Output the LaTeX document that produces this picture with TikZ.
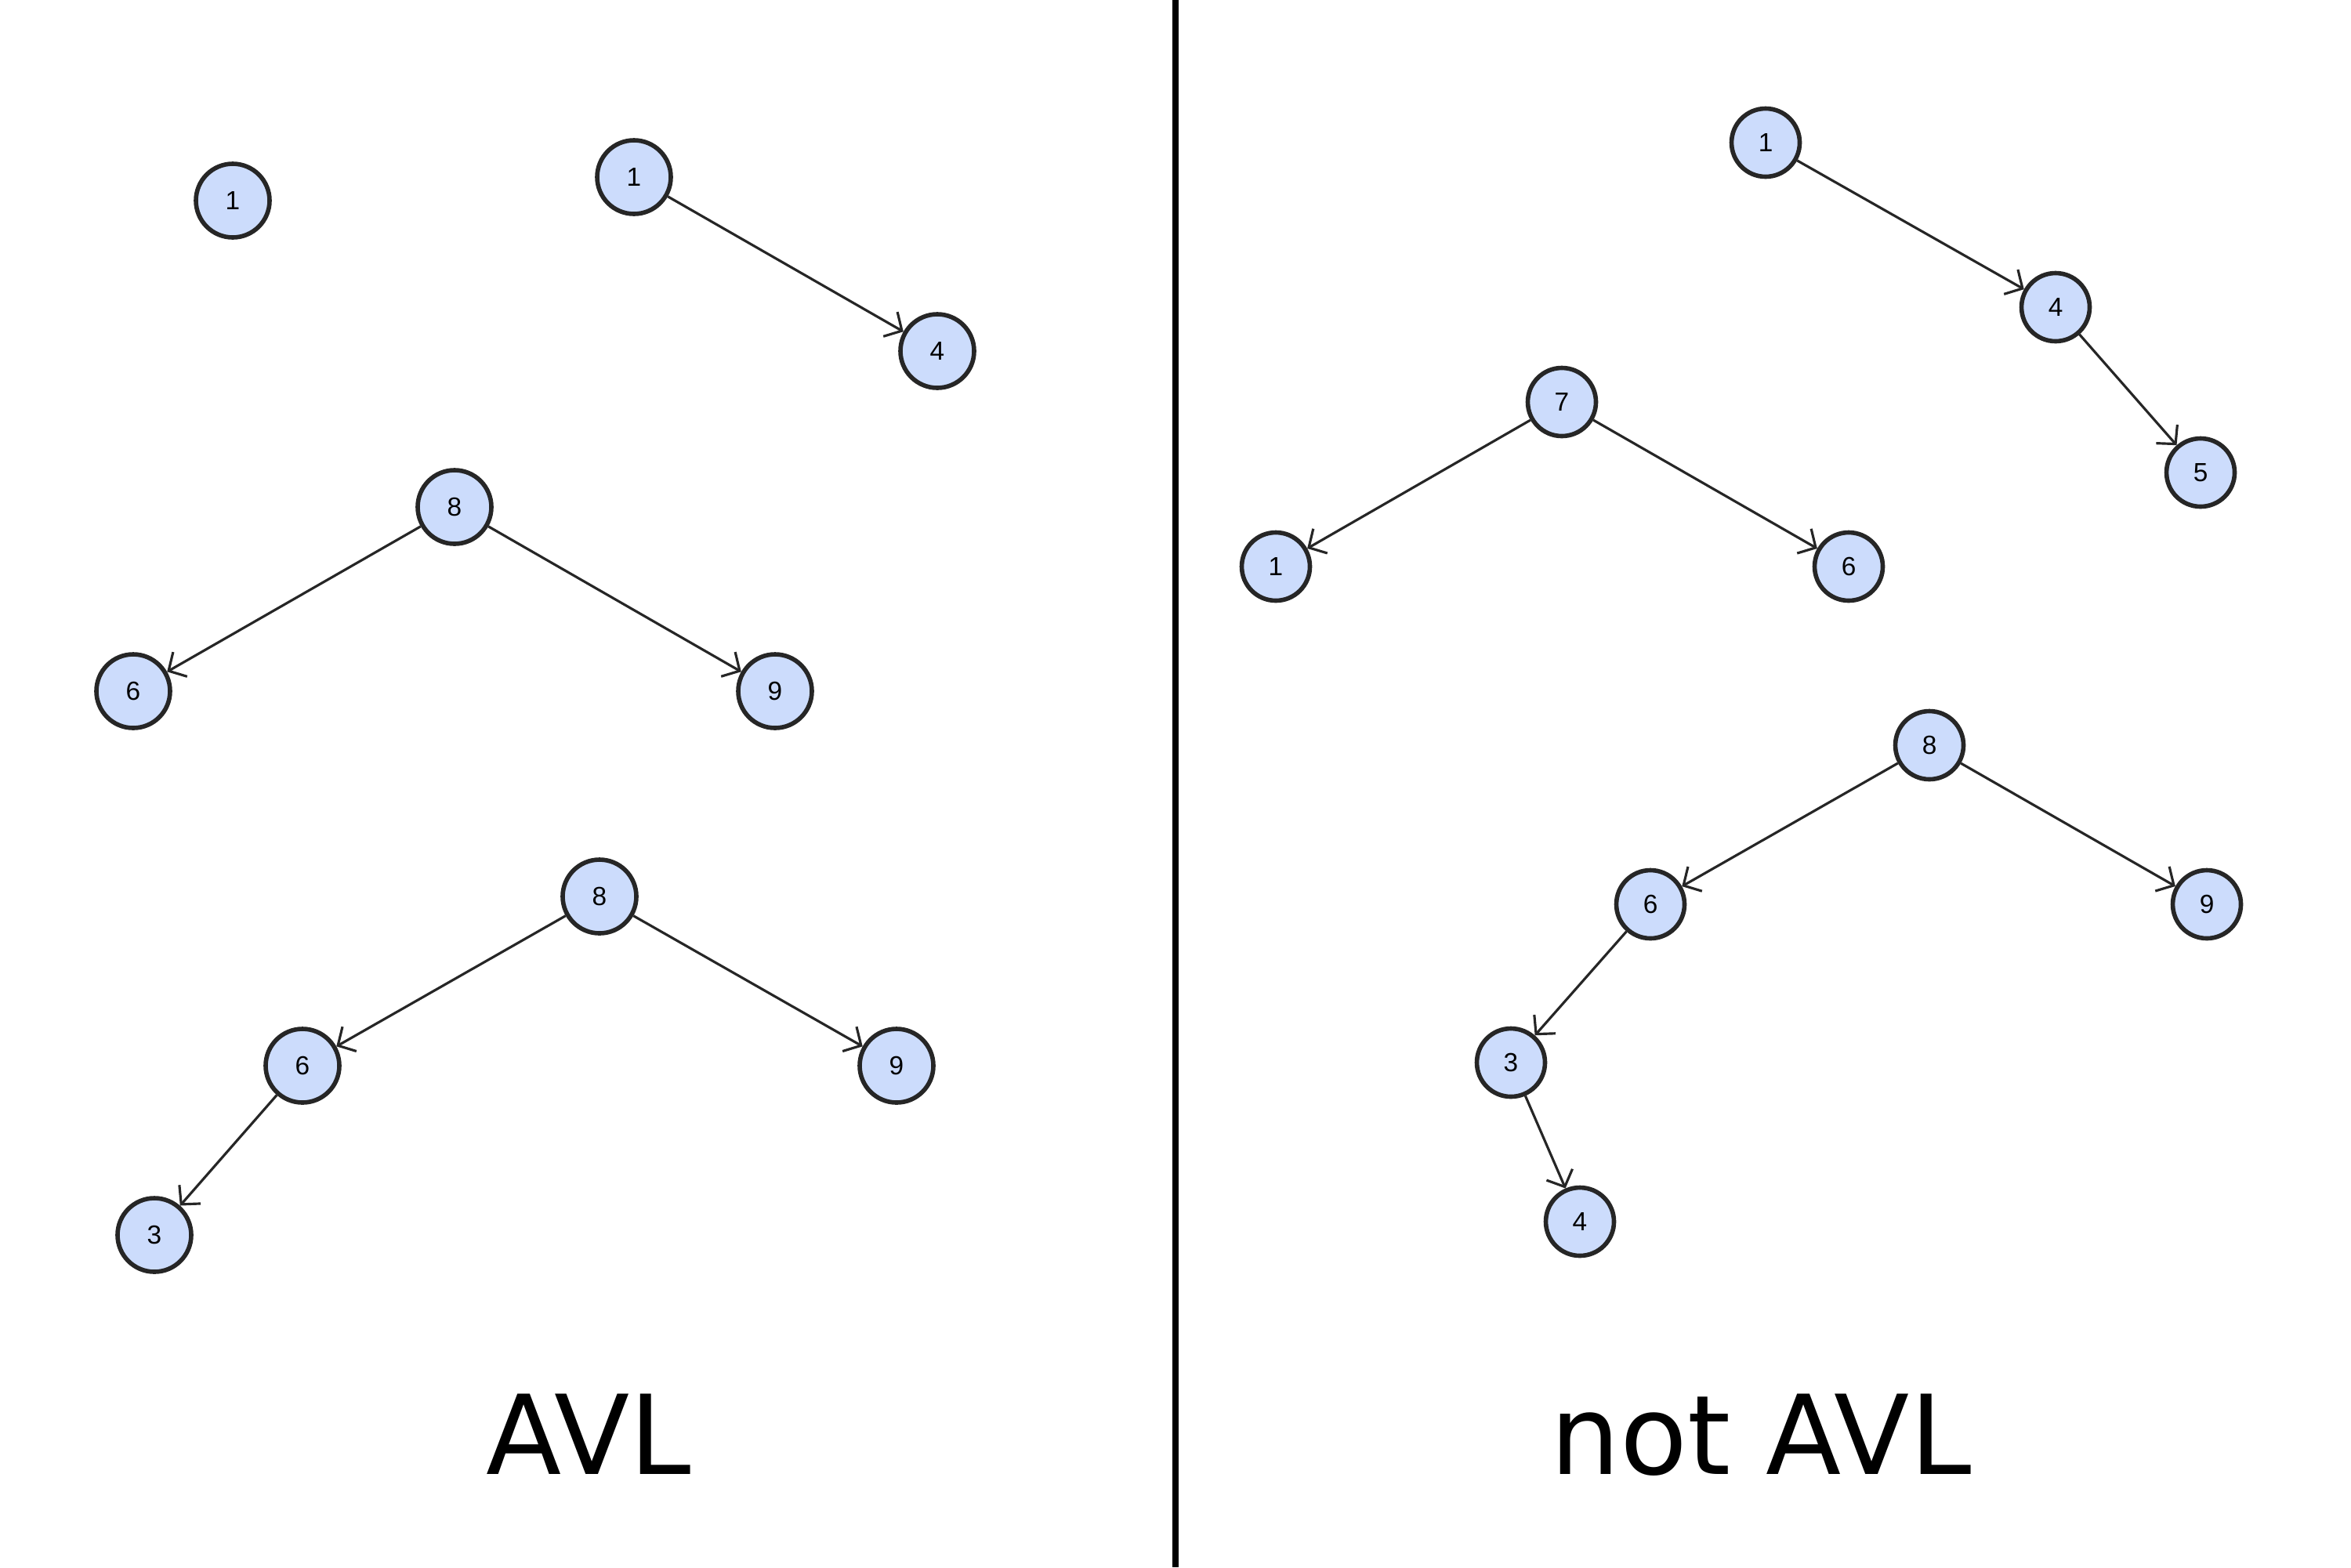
\documentclass[tikz,border=0pt]{standalone}
\usepackage{fontspec}
\setmainfont{Liberation Sans}
\newfontfamily\labelfont{DejaVu Sans}
\usetikzlibrary{arrows.meta}
\definecolor{vertblue}{RGB}{204,220,252}

\begin{document}
\begin{tikzpicture}[vert/.style={circle, draw=black!85, line width=1.6pt, fill=vertblue, inner sep=0pt, minimum size=0.87cm, font=\fontsize{9.5}{9.5}\selectfont},
	big/.style={minimum size=0.94cm},
	edge/.style={-{Straight Barb[length=1.7mm,width=3.6mm]}, line width=0.9pt, black!85}]
	\useasboundingbox (0, 0) rectangle (30, -20);
	% left side: AVL trees
	\node[vert, big] (a1) at (2.97, -2.56) {1};
	\node[vert, big] (b1) at (8.09, -2.26) {1};
	\node[vert, big] (b4) at (11.96, -4.48) {4};
	\node[vert, big] (c8) at (5.80, -6.47) {8};
	\node[vert, big] (c6) at (1.70, -8.82) {6};
	\node[vert, big] (c9) at (9.89, -8.82) {9};
	\node[vert, big] (d8) at (7.65, -11.44) {8};
	\node[vert, big] (d6) at (3.86, -13.60) {6};
	\node[vert, big] (d9) at (11.44, -13.60) {9};
	\node[vert, big] (d3) at (1.97, -15.76) {3};
	\draw[edge] (b1) -- (b4);
	\draw[edge] (c8) -- (c6);
	\draw[edge] (c8) -- (c9);
	\draw[edge] (d8) -- (d6);
	\draw[edge] (d8) -- (d9);
	\draw[edge] (d6) -- (d3);
	% right side: not AVL trees
	\node[vert] (e1) at (22.53, -1.82) {1};
	\node[vert] (e4) at (26.23, -3.92) {4};
	\node[vert] (e5) at (28.08, -6.03) {5};
	\node[vert] (f7) at (19.93, -5.13) {7};
	\node[vert] (f1) at (16.28, -7.23) {1};
	\node[vert] (f6) at (23.59, -7.23) {6};
	\node[vert] (g8) at (24.62, -9.51) {8};
	\node[vert] (g6) at (21.06, -11.54) {6};
	\node[vert] (g9) at (28.16, -11.54) {9};
	\node[vert] (g3) at (19.28, -13.56) {3};
	\node[vert] (g4) at (20.16, -15.59) {4};
	\draw[edge] (e1) -- (e4);
	\draw[edge] (e4) -- (e5);
	\draw[edge] (f7) -- (f1);
	\draw[edge] (f7) -- (f6);
	\draw[edge] (g8) -- (g6);
	\draw[edge] (g8) -- (g9);
	\draw[edge] (g6) -- (g3);
	\draw[edge] (g3) -- (g4);
	% divider and captions
	\coordinate (top) at (15.0, 0);
	\coordinate (bot) at (15.0, -20);
	\draw[line width=0.08cm] (top) -- (bot);
	\node[anchor=base, font=\labelfont\fontsize{40}{40}\selectfont] (avl) at (7.51, -18.81) {AVL};
	\node[anchor=base, font=\labelfont\fontsize{40}{40}\selectfont] (notavl) at (22.47, -18.81) {not AVL};
\end{tikzpicture}
\end{document}
